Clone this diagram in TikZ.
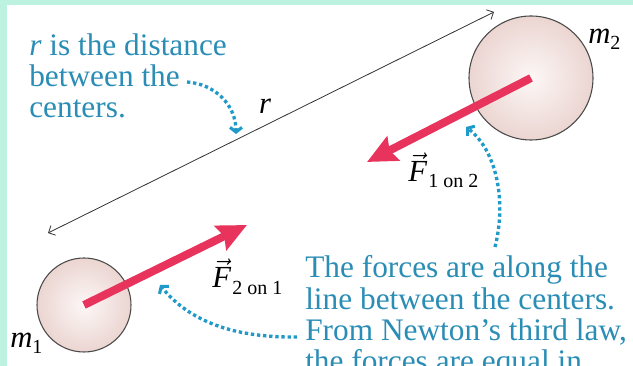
\documentclass[tikz,border=0pt]{standalone}
\usepackage{fontspec}
\setmainfont{Liberation Serif}
\usetikzlibrary{arrows.meta}
\definecolor{mint}{HTML}{BDF2E1}
\definecolor{noteteal}{HTML}{2A8DB5}
\definecolor{dotblue}{HTML}{1F9AC9}
\definecolor{forcered}{HTML}{E8335C}
\definecolor{sphin}{HTML}{FCF7F6}
\definecolor{sphout}{HTML}{EBD5D1}
\definecolor{sphedge}{HTML}{4A4A4A}
\newcommand\subsz{\fontsize{15}{15}\selectfont}
\tikzset{
  note/.style={text=noteteal, font=\fontsize{23.5}{23.5}\selectfont, align=left, inner sep=0pt},
  lab/.style={text=black, font=\fontsize{23}{23}\selectfont, inner sep=0pt},
  sphere/.style={circle, draw=sphedge, line width=0.8pt, inner color=sphin, outer color=sphout, inner sep=0pt},
  force/.style={draw=forcered, line width=6pt, -{Stealth[inset=3pt,length=22pt,width=20pt]}},
  dist/.style={draw=black!80, line width=0.6pt, {Straight Barb[length=4pt,width=8pt]}-{Straight Barb[length=4pt,width=8pt]}},
  dotarrow/.style={draw=dotblue, line width=2.5pt, dash pattern=on 2.5pt off 2.1pt, -{Straight Barb[length=3.5pt,width=9pt,line width=2.3pt]}}
}
\begin{document}
\begin{tikzpicture}[x=0.75pt,y=-0.75pt]
\useasboundingbox (0,0) rectangle (633,366);
\fill[white] (0,0) rectangle (633,366);
\fill[mint] (0,0) rectangle (633,5);
\fill[mint] (0,0) rectangle (7,366);

% distance line
\coordinate (rl) at (48,233);
\coordinate (rr) at (494,12);
\draw[dist] (rl) -- (rr);
\node[lab, font=\fontsize{23}{23}\selectfont\itshape] (rlab) at (265,106) {r};

% spheres
\node[sphere, minimum size=70.5pt] (m1) at (84,305) {};
\node[sphere, minimum size=93pt] (m2) at (531,78) {};
\node[lab, anchor=base west] (m1lab) at (10,348) {\textit{m}\raisebox{-4.5pt}{\subsz 1}};
\node[lab, anchor=base west] (m2lab) at (588,44) {\textit{m}\raisebox{-4.5pt}{\subsz 2}};

% forces
\coordinate (t21) at (247,225);
\coordinate (t12) at (367,162);
\draw[force] (m1.center) -- (t21);
\draw[force] (m2.center) -- (t12);
\node[lab, anchor=base west] (f12) at (408,182) {$\vec{\textit{F}}$\kern1pt\raisebox{-4.5pt}{\subsz 1 on 2}};
\node[lab, anchor=base west] (f21) at (212,288) {$\vec{\textit{F}}$\kern1pt\raisebox{-5pt}{\subsz 2 on 1}};

% notes (base anchor = baseline of last line)
\node[note, anchor=base west] (tl) at (29,118) {\textit{r} is the distance\\between the\\centers.};
\begin{scope}
\clip (0,0) rectangle (633,366);
\node[note, anchor=base west] (br) at (305,372) {The forces are along the\\line between the centers.\\From Newton’s third law,\\the forces are equal in};
\end{scope}

% dotted pointers
\coordinate (d1s) at (187,82);
\coordinate (d1e) at (236,134);
\draw[dotarrow] (d1s) .. controls (215,84) and (236,105) .. (d1e);
\coordinate (d2s) at (495,247);
\coordinate (d2e) at (466,127);
\draw[dotarrow] (d2s) .. controls (507,200) and (496,150) .. (d2e);
\coordinate (d3s) at (297,337);
\coordinate (d3e) at (160,285);
\draw[dotarrow] (d3s) .. controls (225,338) and (185,316) .. (d3e);
\end{tikzpicture}
\end{document}
